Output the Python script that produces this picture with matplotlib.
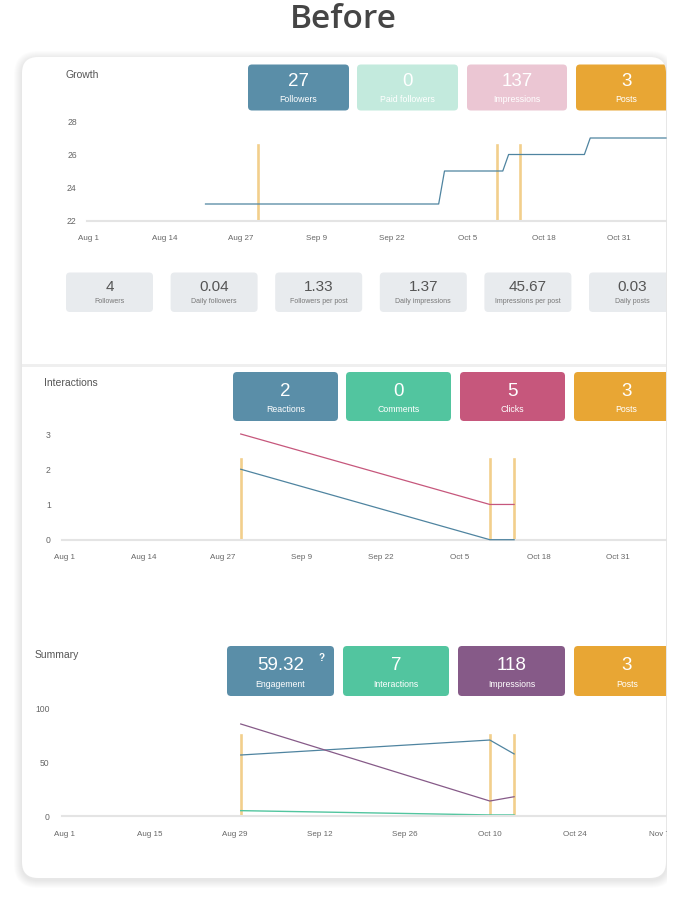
import pandas as pd
import matplotlib
matplotlib.use("Agg")
import matplotlib.pyplot as plt
from matplotlib.patches import FancyBboxPatch, Rectangle

W, H = 686, 900
YEAR = 2019

# ---- data (month-day strings) ----
growth_dates = ["08-21", "09-30", "10-01", "10-11", "10-12", "10-25", "10-26", "11-08"]
growth_followers = [23, 23, 25, 25, 26, 26, 27, 27]

post_dates = ["08-30", "10-10", "10-14"]

reactions = [2, 0, 0]
comments = [0, 0, 0]
clicks = [3, 1, 1]

engagement = [57, 71, 58]
interactions = [5, 1, 1]
impressions = [86, 14, 18]

growth_ticks = ["08-01", "08-14", "08-27", "09-09", "09-22", "10-05", "10-18", "10-31"]
summary_ticks = ["08-01", "08-15", "08-29", "09-12", "09-26", "10-10", "10-24", "11-07"]

growth_cards = [("27", "Followers"), ("0", "Paid followers"), ("137", "Impressions"), ("3", "Posts")]
growth_stats = [("4", "Followers"), ("0.04", "Daily followers"), ("1.33", "Followers per post"),
                ("1.37", "Daily impressions"), ("45.67", "Impressions per post"), ("0.03", "Daily posts")]
inter_cards = [("2", "Reactions"), ("0", "Comments"), ("5", "Clicks"), ("3", "Posts")]
summary_cards = [("59.32", "Engagement"), ("7", "Interactions"), ("118", "Impressions"), ("3", "Posts")]

BLUE = "#5a8ea8"
LINE_BLUE = "#4f84a0"
GREEN = "#52c59f"
RED = "#c6577c"
PURPLE = "#865a88"
ORANGE = "#e8a634"
POST = "#f2cf8c"


def d(s):
    return pd.to_datetime(f"{YEAR}-{s}")


def days(lst):
    return [d(s) for s in lst]


fig = plt.figure(figsize=(W / 100, H / 100), dpi=100)
bg = fig.add_axes([0, 0, 1, 1])
bg.set_xlim(0, W)
bg.set_ylim(H, 0)
bg.axis("off")

# card with soft shadow
for i in range(1, 9):
    bg.add_patch(FancyBboxPatch((22 - i, 57 - i + 2), 644 + 2 * i, 821 + 2 * i,
                                boxstyle=f"round,pad=0,rounding_size={16 + i}",
                                fc="black", ec="none", alpha=0.012))
card = FancyBboxPatch((22, 57), 644, 821, boxstyle="round,pad=0,rounding_size=16",
                      fc="white", ec="none")
bg.add_patch(card)

bg.text(343, 19, "Before", ha="center", va="center", fontsize=24,
        family="Open Sans", weight="semibold", color="#454545")

# separator
bg.add_patch(Rectangle((22, 364), 644, 2.5, fc="#efefef", ec="none"))

FONT = "Liberation Sans"


def cards(items, colors, xs, widths, top, bottom, num_y, lab_y):
    for (num, lab), c, x, w in zip(items, colors, xs, widths):
        p = FancyBboxPatch((x, top), w, bottom - top, boxstyle="round,pad=0,rounding_size=4",
                           fc=c, ec="none")
        bg.add_patch(p)
        p.set_clip_path(card)
        cx = x + w / 2
        for t in (bg.text(cx, num_y, num, ha="center", va="center", fontsize=13.5,
                          color="white", family=FONT),
                  bg.text(cx, lab_y, lab, ha="center", va="center", fontsize=6.3,
                          color="white", family=FONT)):
            t.set_clip_path(card)


def title(x, y, s):
    bg.text(x, y, s, ha="left", va="center", fontsize=7.5, color="#555555", family=FONT)


# ---- Growth ----
title(65, 75, "Growth")
cards(growth_cards, [BLUE, "#c3eadd", "#ebc6d3", ORANGE],
      [248, 357, 467, 576], [101, 101, 100, 101], 64.5, 110.5, 82, 99.5)

for i, (num, lab) in enumerate(growth_stats):
    x = 66 + i * 104.6
    p = FancyBboxPatch((x, 272.5), 87, 39.5, boxstyle="round,pad=0,rounding_size=4",
                       fc="#e8ebee", ec="none")
    bg.add_patch(p)
    p.set_clip_path(card)
    for t in (bg.text(x + 43.5, 287, num, ha="center", va="center", fontsize=11,
                      color="#555555", family=FONT),
              bg.text(x + 43.5, 301.5, lab, ha="center", va="center", fontsize=5,
                      color="#777777", family=FONT)):
        t.set_clip_path(card)

# ---- Interactions ----
title(44, 383, "Interactions")
cards(inter_cards, [BLUE, GREEN, RED, ORANGE],
      [233, 346, 460, 574], [105, 105, 105, 105], 372, 421, 391, 409.5)

# ---- Summary ----
title(35, 655, "Summary")
cards(summary_cards, [BLUE, GREEN, PURPLE, ORANGE],
      [227, 343, 458, 574], [107, 106, 107, 106], 646, 696, 665.5, 684.5)
bg.text(322, 658, "?", ha="center", va="center", fontsize=7, weight="bold",
        color="white", family=FONT)


def chart(x0, x1, y_lo, y_hi, ylim, xlim, yticks, xticks, ypad):
    ax = fig.add_axes([x0 / W, 1 - y_lo / H, (x1 - x0) / W, (y_lo - y_hi) / H])
    ax.patch.set_alpha(0)
    ax.set_ylim(*ylim)
    ax.set_xlim(d(xlim[0]) - pd.Timedelta(hours=10), d(xlim[1]))
    for s in ("top", "right", "left"):
        ax.spines[s].set_visible(False)
    ax.spines["bottom"].set_color("#e4e4e4")
    ax.spines["bottom"].set_linewidth(1.5)
    ax.set_yticks(yticks)
    ax.set_yticklabels([str(v) for v in yticks])
    xt = days(xticks)
    ax.set_xticks(xt)
    ax.set_xticklabels([f"{t:%b} {t.day}" for t in xt])
    ax.tick_params(axis="y", length=0, pad=ypad, labelsize=6.2, labelcolor="#666666")
    ax.tick_params(axis="x", length=0, pad=10.5, labelsize=5.8, labelcolor="#666666")
    for lbl in ax.get_xticklabels() + ax.get_yticklabels():
        lbl.set_family(FONT)
    for p in days(post_dates):
        ax.axvline(p, ymin=0, ymax=0.76, color=POST, lw=1.9, zorder=1)
    return ax


ax1 = chart(86.5, 666, 220.5, 121.5, (22, 28), ("08-01", "11-08"),
            [22, 24, 26, 28], growth_ticks, 7)
ax1.plot(days(growth_dates), growth_followers, color=LINE_BLUE, lw=0.9, zorder=2, clip_on=False)

ax2 = chart(62, 666, 539.7, 434, (0, 3), ("08-01", "11-08"),
            [0, 1, 2, 3], growth_ticks, 8)
pd_ = days(post_dates)
ax2.plot(pd_, comments, color=GREEN, lw=1.3, zorder=2, clip_on=False)
ax2.plot(pd_, reactions, color=LINE_BLUE, lw=0.9, zorder=3, clip_on=False)
ax2.plot(pd_, clicks, color=RED, lw=0.9, zorder=3, clip_on=False)

ax3 = chart(62, 666, 816, 709, (0, 100), ("08-01", "11-08"),
            [0, 50, 100], summary_ticks, 9)
ax3.plot(pd_, interactions, color=GREEN, lw=1.0, zorder=2, clip_on=False)
ax3.plot(pd_, engagement, color=LINE_BLUE, lw=0.9, zorder=3, clip_on=False)
ax3.plot(pd_, impressions, color=PURPLE, lw=0.9, zorder=3, clip_on=False)

# the dashboard is cut off at the card's right edge
top = fig.add_axes([0, 0, 1, 1], zorder=10)
top.set_xlim(0, W)
top.set_ylim(H, 0)
top.axis("off")
top.patch.set_alpha(0)
top.add_patch(Rectangle((666.5, 0), 20, 900, fc="white", ec="none"))

fig.savefig("out.png", dpi=100)
